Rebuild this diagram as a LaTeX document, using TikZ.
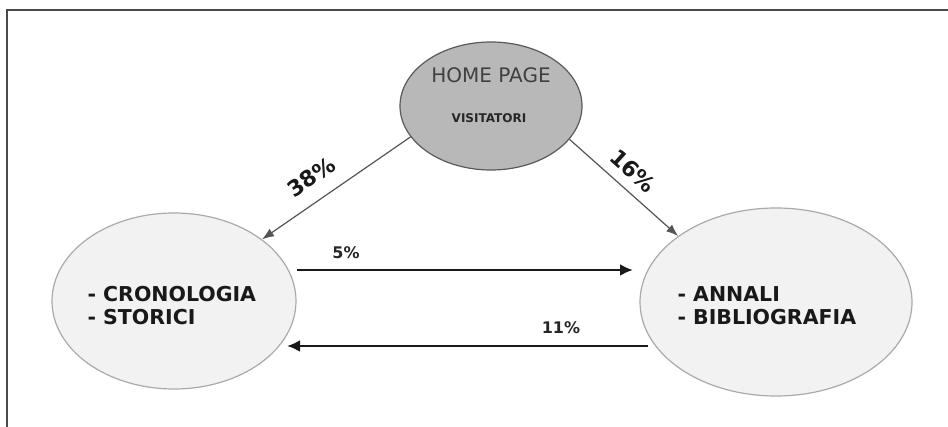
\documentclass[tikz,border=0pt]{standalone}
\usepackage{fontspec}
\setmainfont{DejaVu Sans}
\usetikzlibrary{shapes.geometric,arrows.meta}
\definecolor{homefill}{HTML}{B8B8B8}
\definecolor{sidefill}{HTML}{F2F2F2}
\definecolor{homeline}{HTML}{5A5A5A}
\definecolor{sideline}{HTML}{AAAAAA}
\definecolor{thinline}{HTML}{555555}
\definecolor{frameline}{HTML}{4A4A4A}
\tikzset{
  homebox/.style={ellipse, draw=homeline, line width=1.2pt, fill=homefill, inner sep=0pt},
  sidebox/.style={ellipse, draw=sideline, line width=1.2pt, fill=sidefill, inner sep=0pt},
  itemtext/.style={align=left, anchor=west, font=\fontsize{20.5}{23}\selectfont\bfseries, text=black!90},
  thinarrow/.style={draw=thinline, line width=1.2pt, -{Latex[length=12pt,width=9pt]}},
  thickarrow/.style={draw=black!90, line width=2.6pt, -{Latex[length=13pt,width=12pt]}},
  pctbig/.style={font=\fontsize{22}{26}\selectfont\bfseries, text=black!90, inner sep=0pt},
  pctsmall/.style={font=\fontsize{16}{19}\selectfont\bfseries, text=black!85, inner sep=0pt}
}
\begin{document}
\begin{tikzpicture}[x=1pt,y=-1pt]
\useasboundingbox (0,0) rectangle (948,427);
\fill[white] (0,0) rectangle (948,427);
\draw[frameline, line width=1.6pt] (7,427) -- (7,10) -- (948,10);
% ellipses
\node[homebox, minimum width=182pt, minimum height=128pt] (home) at (491,106) {};
\node[sidebox, minimum width=244pt, minimum height=176pt] (left) at (174,301) {};
\node[sidebox, minimum width=272pt, minimum height=188pt] (right) at (776,302) {};
% texts
\node[font=\fontsize{20}{24}\selectfont, text=black!75, inner sep=0pt] (hometitle) at (491,75) {HOME PAGE};
\node[font=\fontsize{12}{14}\selectfont\bfseries, text=black!85, inner sep=0pt] (homesub) at (489,118) {VISITATORI};
\node[itemtext] (lefttext) at (84,306) {- CRONOLOGIA\\- STORICI};
\node[itemtext] (righttext) at (674,306) {- ANNALI\\- BIBLIOGRAFIA};
% connectors
\draw[thinarrow] (home.201) -- (left.35);
\draw[thinarrow] (home.337) -- (right.146);
\coordinate (a5s) at (297,270);
\coordinate (a5e) at (633,270);
\coordinate (a11s) at (648,346);
\coordinate (a11e) at (287,346);
\draw[thickarrow] (a5s) -- (a5e);
\draw[thickarrow] (a11s) -- (a11e);
% labels
\node[pctbig, rotate=35] (p38) at (311,177) {38\%};
\node[pctbig, rotate=-42] (p16) at (633,171) {16\%};
\node[pctsmall] (p5) at (346,253) {5\%};
\node[pctsmall] (p11) at (561,328) {11\%};
\end{tikzpicture}
\end{document}
